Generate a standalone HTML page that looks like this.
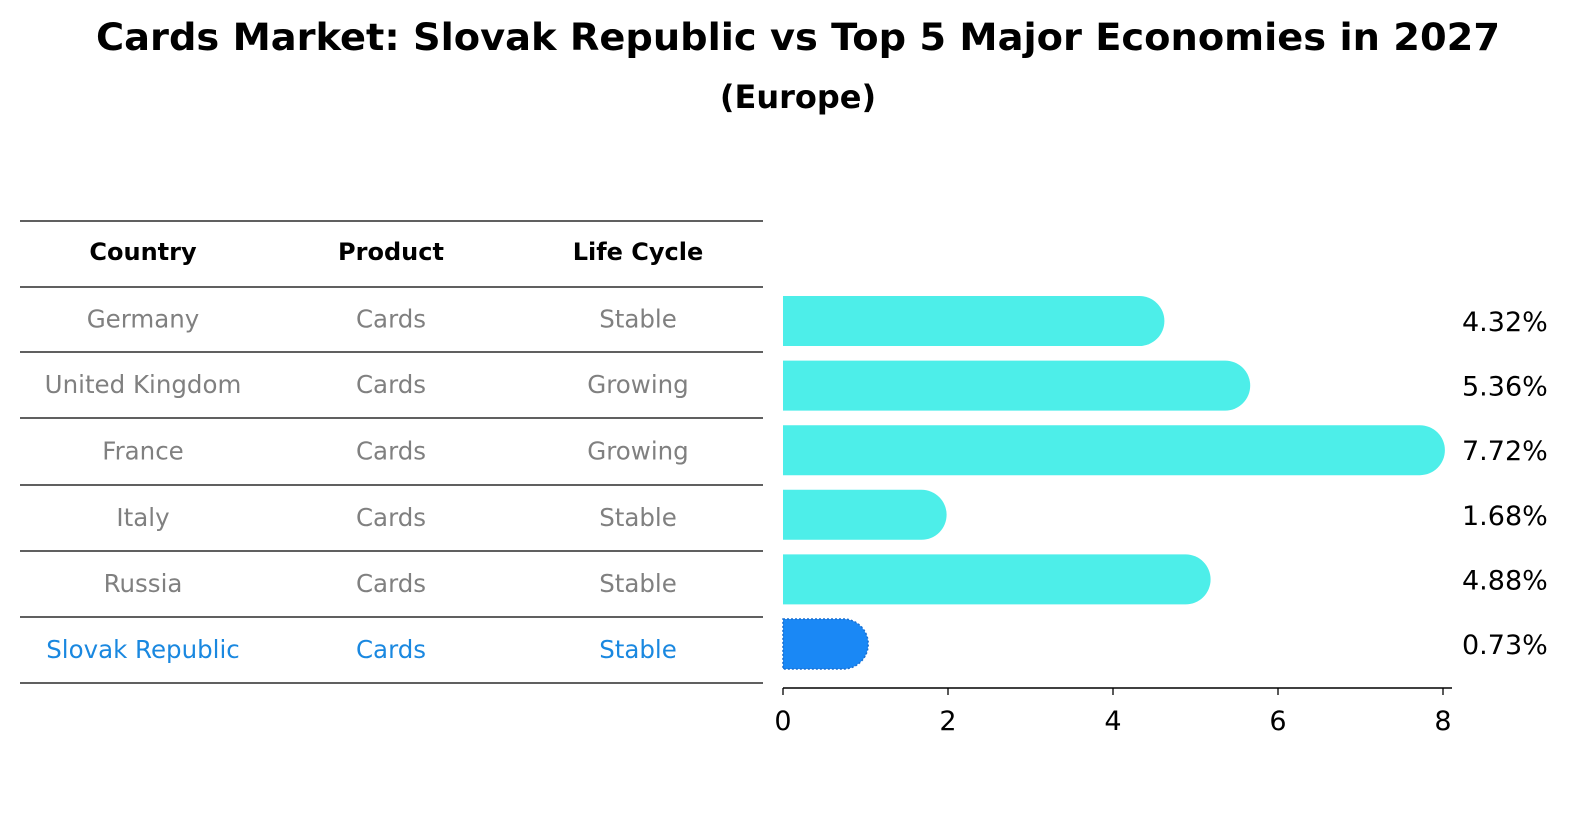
<!DOCTYPE html>
<html><head><meta charset="utf-8"><style>
body{margin:0;background:#fff;font-family:"DejaVu Sans","Liberation Sans",sans-serif;}
</style></head><body>
<svg width="1586" height="823" xmlns="http://www.w3.org/2000/svg" font-family="DejaVu Sans, Liberation Sans, sans-serif">
<rect width="1586" height="823" fill="#fff"/>
<text x="798" y="50" text-anchor="middle" font-size="37" font-weight="bold" textLength="1404" lengthAdjust="spacingAndGlyphs">Cards Market: Slovak Republic vs Top 5 Major Economies in 2027</text>
<text x="798" y="108" text-anchor="middle" font-size="32" font-weight="bold">(Europe)</text>
<g id="table"></g>
<g id="bars"></g>
</svg>
<script>
const countries=["Germany","United Kingdom","France","Italy","Russia","Slovak Republic"];
const products=["Cards","Cards","Cards","Cards","Cards","Cards"];
const lifecycle=["Stable","Growing","Growing","Stable","Stable","Stable"];
const values=[4.32,5.36,7.72,1.68,4.88,0.73];
const ticks=[0,2,4,6,8];
const NS="http://www.w3.org/2000/svg";
function mk(t,a,p){const e=document.createElementNS(NS,t);for(const k in a)e.setAttribute(k,a[k]);p.appendChild(e);return e;}
const tbl=document.getElementById('table'),bars=document.getElementById('bars');
const lineY=[221,287,352,418,485,551,617,683];
lineY.forEach(y=>{const l=mk('line',{x1:20,x2:763,y1:y,y2:y,stroke:'#000','stroke-width':1.2},tbl);

});
const cx=[143,391,638];
["Country","Product","Life Cycle"].forEach((h,i)=>{const t=mk('text',{x:cx[i],y:260,'text-anchor':'middle','font-size':24,'font-weight':'bold'},tbl);t.textContent=h;

});
const x=v=>783+v*82.5;
const rowY=i=>321+i*64.6;
countries.forEach((c,i)=>{
 const last=i===countries.length-1;const col=last?'#1a88e0':'#808080';
 const ty=(lineY[i+1]+lineY[i+2])/2+8;
 [c,products[i],lifecycle[i]].forEach((s,j)=>{const t=mk('text',{x:cx[j],y:ty,'text-anchor':'middle','font-size':24.5,fill:col},tbl);t.textContent=s;
 
 });
 const yc=rowY(i),h=50,r=25,xe=x(values[i]);
 const d=`M783,${yc-h/2} H${xe} A${r},${r} 0 0 1 ${xe},${yc+h/2} H783 Z`;
 const p=mk('path',{d:d,fill:last?'#1a88f5':'#4deee9'},bars);
 if(last){p.setAttribute('stroke','#1a6fd0');p.setAttribute('stroke-dasharray','2,2');p.setAttribute('stroke-width',1.5);}
 
 
 const t=mk('text',{x:1462,y:yc+10,'font-size':27},bars);t.textContent=values[i].toFixed(2)+'%';
 
 
});
const ax=mk('line',{x1:783,x2:1452,y1:688,y2:688,stroke:'#000','stroke-width':1.5},bars);


ticks.forEach(v=>{const l=mk('line',{x1:x(v),x2:x(v),y1:688,y2:695,stroke:'#000','stroke-width':1.3},bars);


const t=mk('text',{x:x(v),y:730,'text-anchor':'middle','font-size':27},bars);t.textContent=v;

});
</script>
</body></html>
